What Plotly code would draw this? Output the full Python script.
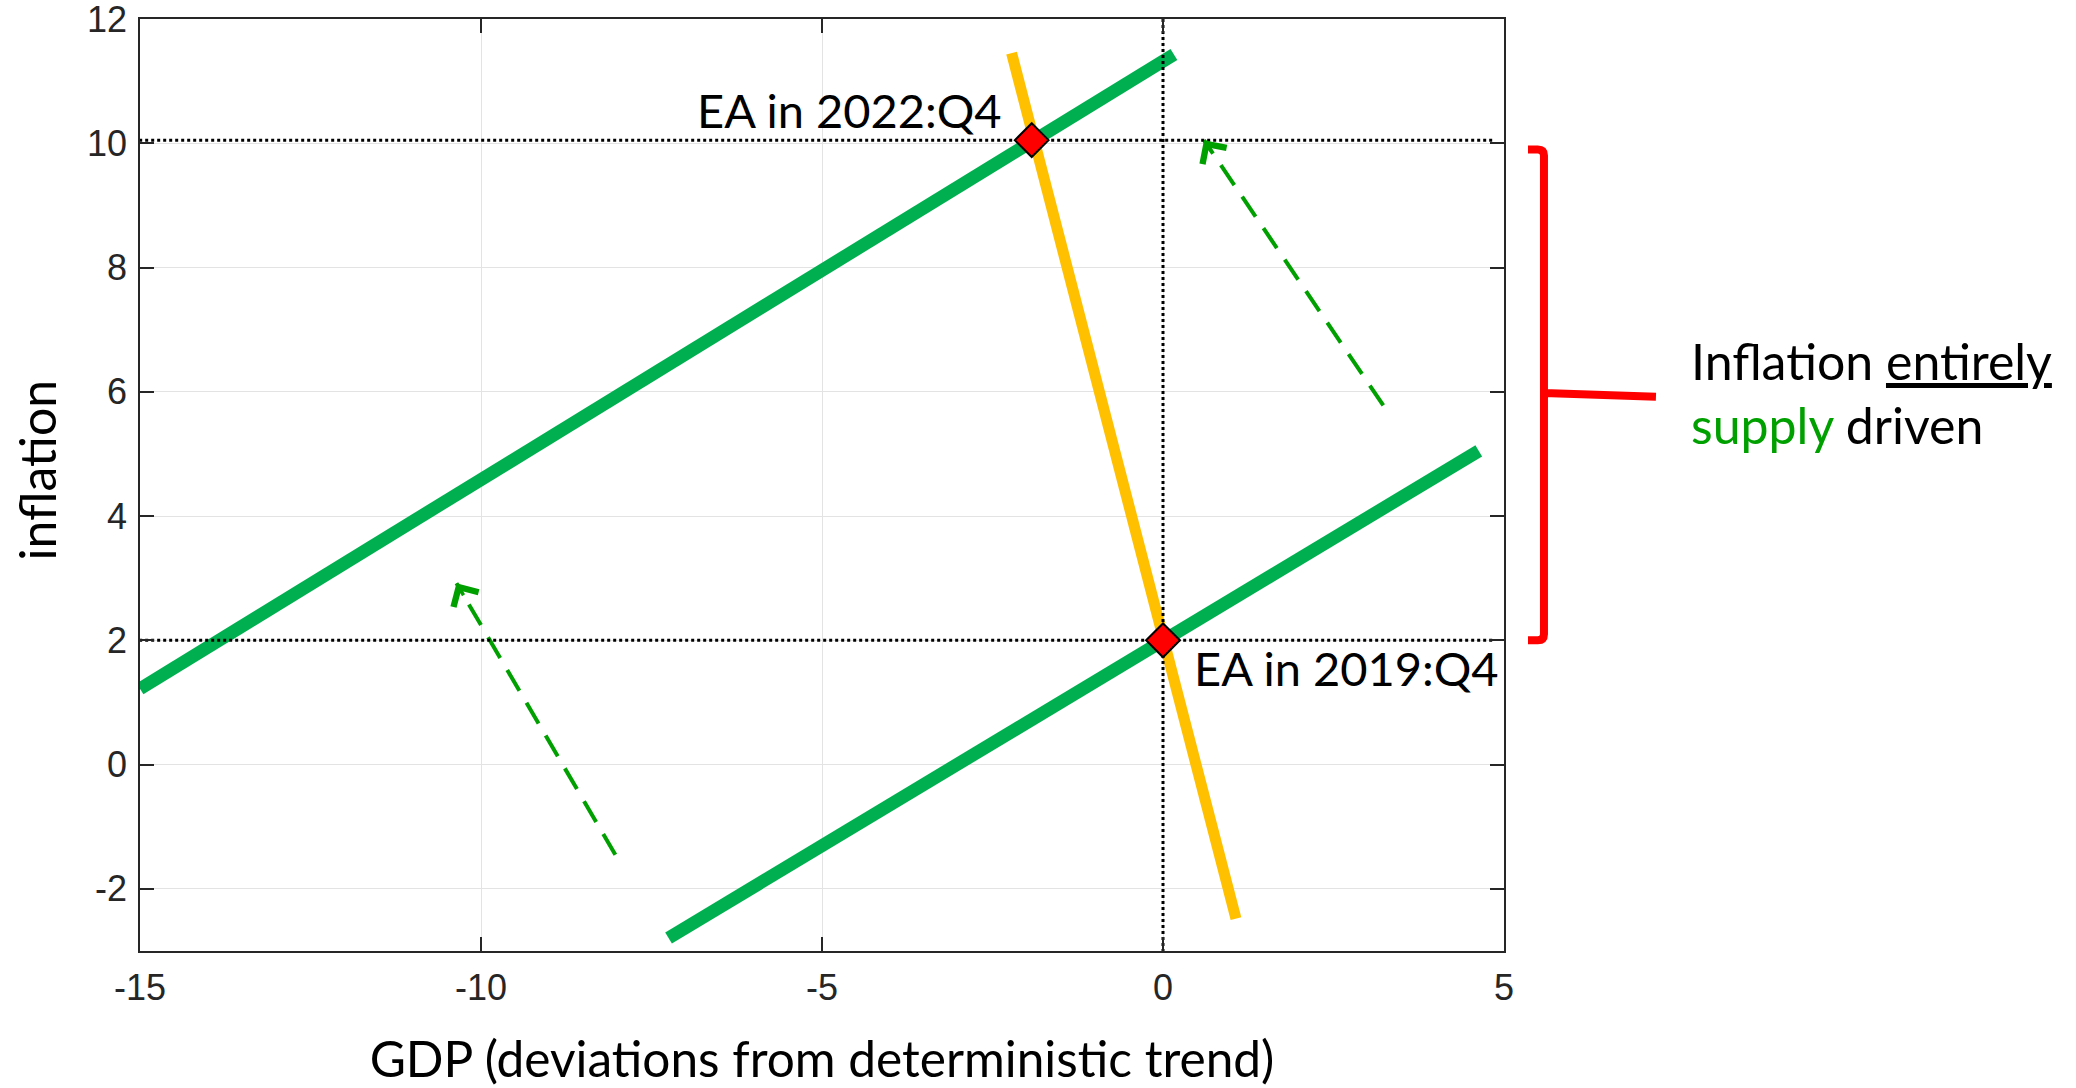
import plotly.graph_objects as go

# ---------------- data ----------------
x_range = [-15, 5]
y_range = [-3, 12]
x_ticks = [-15, -10, -5, 0, 5]
x_tick_labels = ["-15", "-10", "-5", "0", "5"]
y_ticks = [-2, 0, 2, 4, 6, 8, 10, 12]
y_tick_labels = ["-2", "0", "2", "4", "6", "8", "10", "12"]

# supply curves (thick green)
supply_2022_x = [-15.0, 0.16]
supply_2022_y = [1.22, 11.43]
supply_2019_x = [-7.25, 4.63]
supply_2019_y = [-2.79, 5.05]

# demand curve (thick yellow)
demand_x = [-2.22, 1.07]
demand_y = [11.45, -2.48]

# observed points
points_x = [-1.925, 0.0]
points_y = [10.05, 2.0]
point_labels = ["EA in 2022:Q4", "EA in 2019:Q4"]
label_x = [-2.33, 4.96]
label_y = [10.54, 1.55]

# dotted reference lines
hline_x = [-15.1, 4.85]
vline_y = [12, -3]

# dashed shift arrows (tail -> tip)
arrow_left_x = [-8.03, -10.36]
arrow_left_y = [-1.45, 2.92]
arrow_right_x = [3.23, 0.60]
arrow_right_y = [5.78, 10.05]

# red bracket (data y of top, middle, bottom)
bracket_y = [9.9, 5.98, 2.0]

# ---------------- style ----------------
GREEN = "#00B050"
YELLOW = "#FFC000"
DASH_GREEN = "#00A000"
AXIS = "#262626"
TEXT_FONT = "Lato"
TICK_FONT = "Liberation Sans"
TEXT_SIZE = 50

fig = go.Figure()

fig.add_trace(go.Scatter(x=supply_2022_x, y=supply_2022_y, mode="lines",
                         line=dict(color=GREEN, width=13), cliponaxis=False, hoverinfo="skip"))
fig.add_trace(go.Scatter(x=supply_2019_x, y=supply_2019_y, mode="lines",
                         line=dict(color=GREEN, width=13), cliponaxis=False, hoverinfo="skip"))
fig.add_trace(go.Scatter(x=demand_x, y=demand_y, mode="lines",
                         line=dict(color=YELLOW, width=11), cliponaxis=False, hoverinfo="skip"))

for ax_, ay_ in [(arrow_left_x, arrow_left_y), (arrow_right_x, arrow_right_y)]:
    fig.add_trace(go.Scatter(x=ax_, y=ay_, mode="lines",
                             line=dict(color=DASH_GREEN, width=4, dash="24px,14px"),
                             hoverinfo="skip"))

# dotted lines
for yv in points_y:
    fig.add_trace(go.Scatter(x=hline_x, y=[yv, yv], mode="lines",
                             line=dict(color="black", width=3, dash="dot"),
                             cliponaxis=False, hoverinfo="skip"))
fig.add_trace(go.Scatter(x=[points_x[1], points_x[1]], y=vline_y, mode="lines",
                         line=dict(color="black", width=3, dash="dot"), hoverinfo="skip"))

fig.add_trace(go.Scatter(x=points_x, y=points_y, mode="markers",
                         marker=dict(symbol="diamond", size=26, color="#FF0000",
                                     line=dict(color="black", width=2)),
                         cliponaxis=False, hoverinfo="skip"))

annotations = []
for lx, ly, txt in zip(label_x, label_y, point_labels):
    annotations.append(dict(x=lx, y=ly, xref="x", yref="y", text=txt, showarrow=False,
                            xanchor="right", yanchor="middle",
                            font=dict(family=TEXT_FONT, size=47, color="black")))

# arrow heads
for ax_, ay_ in [(arrow_left_x, arrow_left_y), (arrow_right_x, arrow_right_y)]:
    tipx, tipy = ax_[1], ay_[1]
    tailx = tipx - 0.05 * (ax_[1] - ax_[0])
    taily = tipy - 0.05 * (ay_[1] - ay_[0])
    annotations.append(dict(x=tipx, y=tipy, ax=tailx, ay=taily, xref="x", yref="y",
                            axref="x", ayref="y", text="", showarrow=True,
                            arrowhead=4, arrowsize=1.6, arrowwidth=3.5,
                            arrowcolor=DASH_GREEN, standoff=0))

def ypaper(v):
    return (v - y_range[0]) / (y_range[1] - y_range[0])

# y-axis title
annotations.append(dict(x=-0.0755, y=0.5157, xref="paper", yref="paper",
                        text="inflation", showarrow=False, textangle=-90,
                        xanchor="center", yanchor="middle",
                        font=dict(family=TEXT_FONT, size=TEXT_SIZE, color="black")))

# right-side text
annotations.append(dict(x=1.1358, y=0.6327, xref="paper", yref="paper",
                        text="Inflation <u>entirely</u>", showarrow=False,
                        xanchor="left", yanchor="middle",
                        font=dict(family=TEXT_FONT, size=TEXT_SIZE, color="black")))
annotations.append(dict(x=1.1358, y=0.5639, xref="paper", yref="paper",
                        text="<span style='color:#00A000'>supply</span> driven", showarrow=False,
                        xanchor="left", yanchor="middle",
                        font=dict(family=TEXT_FONT, size=TEXT_SIZE, color="black")))

# bracket shape in paper coords
vx, hx, ex = 1.0293, 1.0176, 1.1114
rx, ry = 0.0045, 0.0065
top, mid, bot = [ypaper(v) for v in bracket_y]
path = (f"M{hx},{top} L{vx - rx},{top} Q{vx},{top} {vx},{top - ry} "
        f"L{vx},{bot + ry} Q{vx},{bot} {vx - rx},{bot} L{hx},{bot} "
        f"M{vx},{mid} L{ex},{mid - 0.004}")
shapes = [dict(type="path", path=path, xref="paper", yref="paper",
               line=dict(color="#FF0000", width=8))]

axis_common = dict(
    ticks="inside", ticklen=14, tickwidth=1.5, tickcolor=AXIS,
    showline=True, linecolor=AXIS, linewidth=1.5, mirror="allticks",
    showgrid=True, gridcolor="#e3e3e3", gridwidth=1, zeroline=False,
    tickfont=dict(family=TICK_FONT, size=36, color=AXIS),
    automargin=False, ticklabelstandoff=4, ticklabeloverflow="allow",
)

fig.update_layout(
    width=2076, height=1088,
    margin=dict(l=140, r=572, t=19, b=137),
    paper_bgcolor="white", plot_bgcolor="white",
    showlegend=False,
    xaxis=dict(range=x_range, tickvals=x_ticks, ticktext=x_tick_labels, **axis_common,
               title=dict(text="GDP (deviations from deterministic trend)",
                          font=dict(family=TEXT_FONT, size=49.6, color="black"),
                          standoff=44)),
    yaxis=dict(range=y_range, tickvals=y_ticks, ticktext=y_tick_labels, **axis_common),
    annotations=annotations,
    shapes=shapes,
)

# remove the default page margin so the figure fills the window exactly
fig.write_html("out.html",
               config={"displayModeBar": False},
               post_script="document.body.style.margin='0';document.body.style.overflow='hidden';")
